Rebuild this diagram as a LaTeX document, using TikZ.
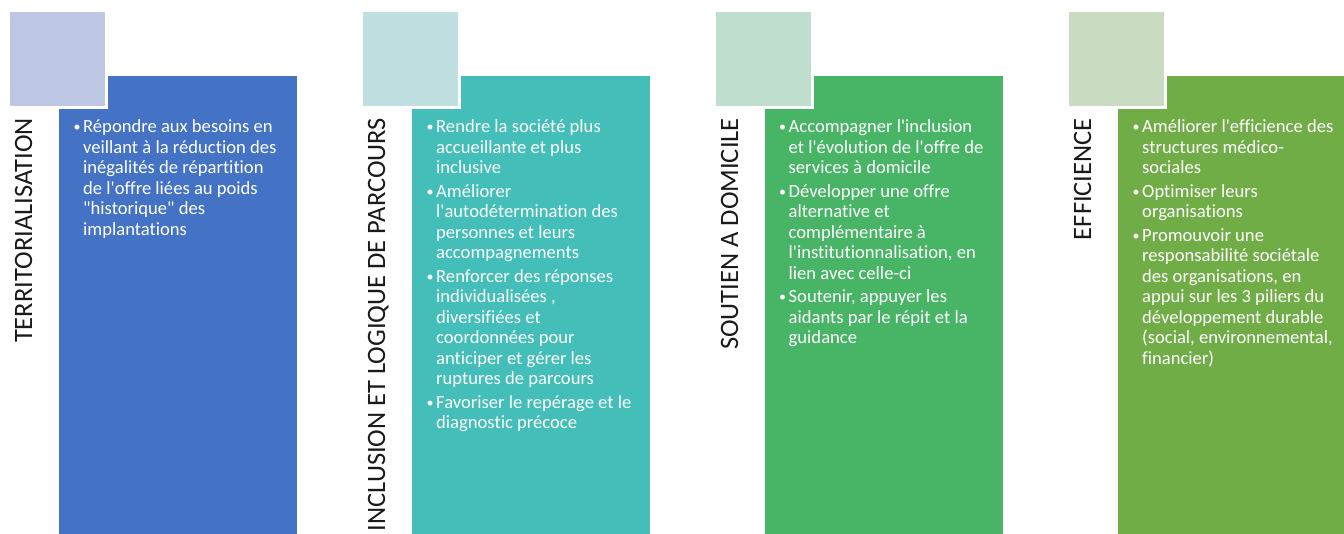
\documentclass[tikz,border=0pt]{standalone}
\usepackage{fontspec}
\setmainfont{Carlito}[Ligatures={TeXOff,CommonOff}]

% colours of the four pillars: dark bar and pale tile
\definecolor{barA}{HTML}{4472C4}
\definecolor{tileA}{HTML}{BDC7E3}
\definecolor{barB}{HTML}{43BEB8}
\definecolor{tileB}{HTML}{BFDFE0}
\definecolor{barC}{HTML}{47B565}
\definecolor{tileC}{HTML}{BFDECD}
\definecolor{barD}{HTML}{70AD47}
\definecolor{tileD}{HTML}{C9DBC0}
\definecolor{titleink}{HTML}{1A1A1A}

% small bullet mark
\newcommand\dotmark{\raisebox{1.2pt}{\fontsize{14}{14}\selectfont\textbullet}}
% one bullet paragraph with hanging indent (\\ breaks lines inside it)
\newcommand\itm[1]{\par\hangindent=10pt\hangafter=1\noindent\makebox[10pt][l]{\hspace{0.5pt}\dotmark}#1}
% body of a column: first baseline is the node's base
\newcommand\colbody[1]{\vtop{\hsize=240pt
  \fontsize{18.6}{20.5}\selectfont\parskip=3pt\parindent=0pt #1\par}}

\begin{document}
\begin{tikzpicture}[x=1pt,y=-1pt,
  bar/.style={fill=#1, draw=none, inner sep=0, outer sep=0, anchor=north west,
    minimum width=238pt, minimum height=470pt},
  tile/.style={fill=#1, draw=white, line width=2.4pt, inner sep=0, outer sep=0,
    anchor=north west, minimum width=97.5pt, minimum height=96.5pt},
  pillar/.style={rotate=90, anchor=base east, inner sep=0, text=titleink,
    font=\fontsize{26.5}{30}\selectfont},
  listtext/.style={anchor=base west, inner sep=0, text=white}]

\clip (0,0) rectangle (1344,534);
\fill[white] (0,0) rectangle (1344,534);

% coloured bars
\node[bar=barA] (bar1) at (59,76) {};
\node[bar=barB] (bar2) at (412,76) {};
\node[bar=barC] (bar3) at (764.5,76) {};
\node[bar=barD] (bar4) at (1117.5,76) {};

% pale tiles overlapping the bars
\node[tile=tileA] (tile1) at (9,11) {};
\node[tile=tileB] (tile2) at (362,11) {};
\node[tile=tileC] (tile3) at (715,11) {};
\node[tile=tileD] (tile4) at (1068,11) {};

% vertical titles
\node[pillar] (title1) at (32,118) {TERRITORIALISATION};
\node[pillar] (title2) at (385,118) {INCLUSION ET LOGIQUE DE PARCOURS};
\node[pillar] (title3) at (738,118) {SOUTIEN A DOMICILE};
\node[pillar] (title4) at (1091,118) {EFFICIENCE};

% bullet lists
\node[listtext] (list1) at (73,133) {\colbody{%
  \itm{Répondre aux besoins en\\veillant à la réduction des\\inégalités de répartition\\de l'offre liées au poids\\"historique" des\\implantations}}};

\node[listtext] (list2) at (426,133) {\colbody{%
  \itm{Rendre la société plus\\accueillante et plus\\inclusive}
  \itm{Améliorer\\l'autodétermination des\\personnes et leurs\\accompagnements}
  \itm{Renforcer des réponses\\individualisées ,\\diversifiées et\\coordonnées pour\\anticiper et gérer les\\ruptures de parcours}
  \itm{Favoriser le repérage et le\\diagnostic précoce}}};

\node[listtext] (list3) at (778.5,133) {\colbody{%
  \itm{Accompagner l'inclusion\\et l'évolution de l'offre de\\services à domicile}
  \itm{Développer une offre\\alternative et\\complémentaire à\\l'institutionnalisation, en\\lien avec celle-ci}
  \itm{Soutenir, appuyer les\\aidants par le répit et la\\guidance}}};

\node[listtext] (list4) at (1132,133) {\colbody{%
  \itm{Améliorer l'efficience des\\structures médico-\\sociales}
  \itm{Optimiser leurs\\organisations}
  \itm{Promouvoir une\\responsabilité sociétale\\des organisations, en\\appui sur les 3 piliers du\\développement durable\\(social, environnemental,\\financier)}}};

\end{tikzpicture}
\end{document}
